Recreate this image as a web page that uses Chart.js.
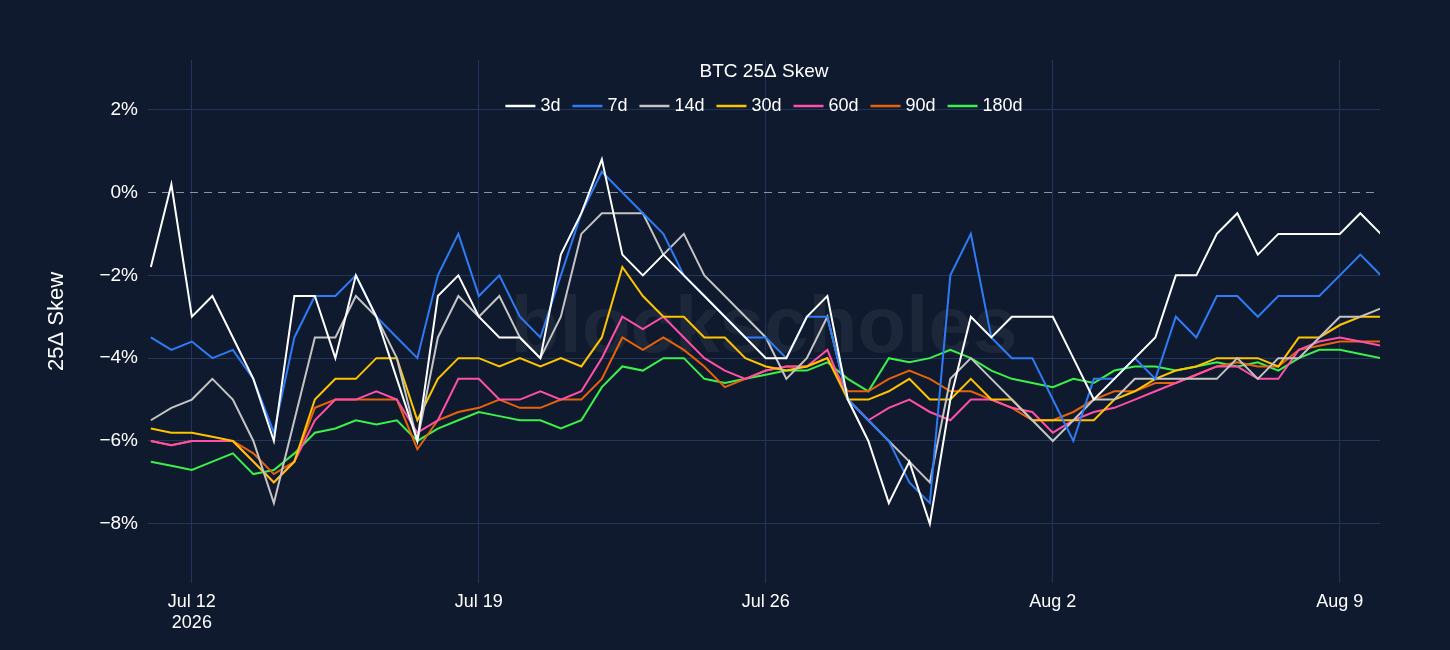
<!DOCTYPE html>
<html><head><meta charset="utf-8">
<script src="https://cdn.jsdelivr.net/npm/chart.js@4"></script>
<style>html,body{margin:0;background:#0f1a2e;}#w{width:1450px;height:650px;}</style>
</head><body><div id="w"><canvas id="c"></canvas></div>
<script>
// days since Jul 12 2026 00:00, half-day steps from -1 to 29
const dayStart = -1, dayStep = 0.5;
const tickDays = [0, 7, 14, 21, 28];
const tickLabels = [["Jul 12","2026"], "Jul 19", "Jul 26", "Aug 2", "Aug 9"];
const yTicks = [-8, -6, -4, -2, 0, 2];
const titleText = "BTC 25Δ Skew";
const names = ["3d","7d","14d","30d","60d","90d","180d"];
const colors = ["#ffffff","#2f7bf5","#c4c4c4","#ffc400","#ff4fa8","#e8620c","#3cf04b"];
const s3d = [-1.8,0.2,-3,-2.5,-3.5,-4.5,-6,-2.5,-2.5,-4,-2,-3,-4.5,-6,-2.5,-2,-3,-3.5,-3.5,-4,-1.5,-0.5,0.8,-1.5,-2,-1.5,-2,-2.5,-3,-3.5,-4,-4,-3,-2.5,-5,-6,-7.5,-6.5,-8,-5,-3,-3.5,-3,-3,-3,-4,-5,-4.5,-4,-3.5,-2,-2,-1,-0.5,-1.5,-1,-1,-1,-1,-0.5,-1];
const s7d = [-3.5,-3.8,-3.6,-4,-3.8,-4.5,-5.8,-3.5,-2.5,-2.5,-2,-3,-3.5,-4,-2,-1,-2.5,-2,-3,-3.5,-2,-0.5,0.5,0,-0.5,-1,-2,-2.5,-3,-3.5,-3.5,-4,-3,-3,-5,-5.5,-6,-7,-7.5,-2,-1,-3.5,-4,-4,-5,-6,-4.5,-4.5,-4,-4.5,-3,-3.5,-2.5,-2.5,-3,-2.5,-2.5,-2.5,-2,-1.5,-2];
const s14d = [-5.5,-5.2,-5,-4.5,-5,-6,-7.5,-5.5,-3.5,-3.5,-2.5,-3,-4,-6,-3.5,-2.5,-3,-2.5,-3.5,-4,-3,-1,-0.5,-0.5,-0.5,-1.5,-1,-2,-2.5,-3,-3.5,-4.5,-4,-3,-5,-5.5,-6,-6.5,-7,-4.5,-4,-4.5,-5,-5.5,-6,-5.5,-5,-5,-4.5,-4.5,-4.5,-4.5,-4.5,-4,-4.5,-4,-4,-3.5,-3,-3,-2.8];
const s30d = [-5.7,-5.8,-5.8,-5.9,-6,-6.5,-7,-6.5,-5,-4.5,-4.5,-4,-4,-5.5,-4.5,-4,-4,-4.2,-4,-4.2,-4,-4.2,-3.5,-1.8,-2.5,-3,-3,-3.5,-3.5,-4,-4.2,-4.3,-4.2,-4,-5,-5,-4.8,-4.5,-5,-5,-4.5,-5,-5,-5.5,-5.5,-5.5,-5.5,-5,-4.8,-4.5,-4.3,-4.2,-4,-4,-4,-4.2,-3.5,-3.5,-3.2,-3,-3];
const s60d = [-6,-6.1,-6,-6,-6,-6.5,-7,-6.5,-5.5,-5,-5,-4.8,-5,-5.8,-5.5,-4.5,-4.5,-5,-5,-4.8,-5,-4.8,-4,-3,-3.3,-3,-3.5,-4,-4.3,-4.5,-4.3,-4.2,-4.2,-3.8,-5,-5.5,-5.2,-5,-5.3,-5.5,-5,-5,-5.2,-5.3,-5.8,-5.5,-5.3,-5.2,-5,-4.8,-4.6,-4.4,-4.2,-4.2,-4.5,-4.5,-3.8,-3.6,-3.5,-3.6,-3.7];
const s90d = [-6,-6.1,-6,-6,-6,-6.3,-6.8,-6.5,-5.2,-5,-5,-5,-5,-6.2,-5.5,-5.3,-5.2,-5,-5.2,-5.2,-5,-5,-4.5,-3.5,-3.8,-3.5,-3.8,-4.2,-4.7,-4.5,-4.3,-4.2,-4.2,-4,-4.8,-4.8,-4.5,-4.3,-4.5,-4.8,-4.8,-5,-5.2,-5.5,-5.5,-5.3,-5,-4.8,-4.8,-4.6,-4.6,-4.4,-4.2,-4.1,-4.2,-4.2,-3.8,-3.7,-3.6,-3.6,-3.6];
const s180d = [-6.5,-6.6,-6.7,-6.5,-6.3,-6.8,-6.7,-6.3,-5.8,-5.7,-5.5,-5.6,-5.5,-6,-5.7,-5.5,-5.3,-5.4,-5.5,-5.5,-5.7,-5.5,-4.7,-4.2,-4.3,-4,-4,-4.5,-4.6,-4.5,-4.4,-4.3,-4.3,-4.1,-4.5,-4.8,-4,-4.1,-4,-3.8,-4,-4.3,-4.5,-4.6,-4.7,-4.5,-4.6,-4.3,-4.2,-4.2,-4.3,-4.2,-4.1,-4.2,-4.1,-4.3,-4,-3.8,-3.8,-3.9,-4];
const series = [s3d,s7d,s14d,s30d,s60d,s90d,s180d];
const FONT = '"Liberation Sans", Arial, sans-serif';

const datasets = series.map((s,k)=>({
  label: names[k], borderColor: colors[k], backgroundColor: colors[k],
  borderWidth: 2, pointRadius: 0, tension: 0,
  data: s.map((v,i)=>({x: dayStart + i*dayStep, y: v}))
}));

const extras = {id:'extras',
  beforeDatasetsDraw(ch){
    const c=ch.ctx, a=ch.chartArea;
    c.save(); c.font='bold 80px '+FONT; c.fillStyle='rgba(255,255,255,0.06)';
    c.textAlign='center'; c.textBaseline='middle';
    c.fillText('blockscholes',(a.left+a.right)/2,330);
    const y=ch.scales.y.getPixelForValue(0);
    c.strokeStyle='#8a93a3';c.setLineDash([8,6]);c.lineWidth=1;
    c.beginPath();c.moveTo(a.left,y);c.lineTo(a.right,y);c.stroke();
    c.restore();
  },
  afterDraw(ch){
    const c=ch.ctx, a=ch.chartArea, cx=(a.left+a.right)/2;
    c.save(); c.fillStyle='#fff'; c.textBaseline='middle';
    c.font='19px '+FONT; c.textAlign='center'; c.fillText(titleText,cx,72);
    c.font='18px '+FONT; c.textAlign='left';
    const lw=30, g1=5, g2=12;
    const widths=names.map(n=>lw+g1+c.measureText(n).width);
    const total=widths.reduce((p,q)=>p+q,0)+g2*(names.length-1);
    let x=cx-total/2; const y=106;
    names.forEach((n,k)=>{
      c.strokeStyle=colors[k];c.lineWidth=2.5;c.beginPath();c.moveTo(x,y);c.lineTo(x+lw,y);c.stroke();
      c.fillStyle='#fff';c.fillText(n,x+lw+g1,y);
      x+=widths[k]+g2;
    });
    c.restore();
  }};

new Chart(document.getElementById('c'), {
  type: 'line',
  data: {datasets},
  plugins:[extras],
  options: {
    responsive:true, maintainAspectRatio:false, animation:false,
    layout:{padding:{left:40,right:70,top:60,bottom:0}},
    plugins:{ legend:{display:false}, tooltip:{enabled:false} },
    scales:{
      x:{type:'linear',min:-1.07,max:28.98,
        afterFit(a){a.height=67;},
        afterBuildTicks(a){a.ticks=tickDays.map(v=>({value:v}));},
        ticks:{color:'#ffffff',font:{family:FONT,size:18},maxRotation:0,autoSkip:false,padding:8,
          callback(v){const i=tickDays.indexOf(v);return i>=0?tickLabels[i]:'';}},
        grid:{color:'#22365a',drawTicks:false}, border:{display:false}},
      y:{min:-9.43,max:3.2,
        afterFit(a){a.width=108;},
        afterBuildTicks(a){a.ticks=yTicks.map(v=>({value:v}));},
        title:{display:true,text:'25Δ Skew',color:'#ffffff',font:{family:FONT,size:22},padding:{bottom:10}},
        ticks:{color:'#ffffff',font:{family:FONT,size:19},padding:10,
          callback(v){return (v<0?'\u2212'+(-v):v)+'%';}},
        grid:{drawTicks:false,
          color(c){return c.tick&&c.tick.value===0?'rgba(0,0,0,0)':'#22365a';}},
        border:{display:false}}
    }
  }
});
</script>
</body></html>
